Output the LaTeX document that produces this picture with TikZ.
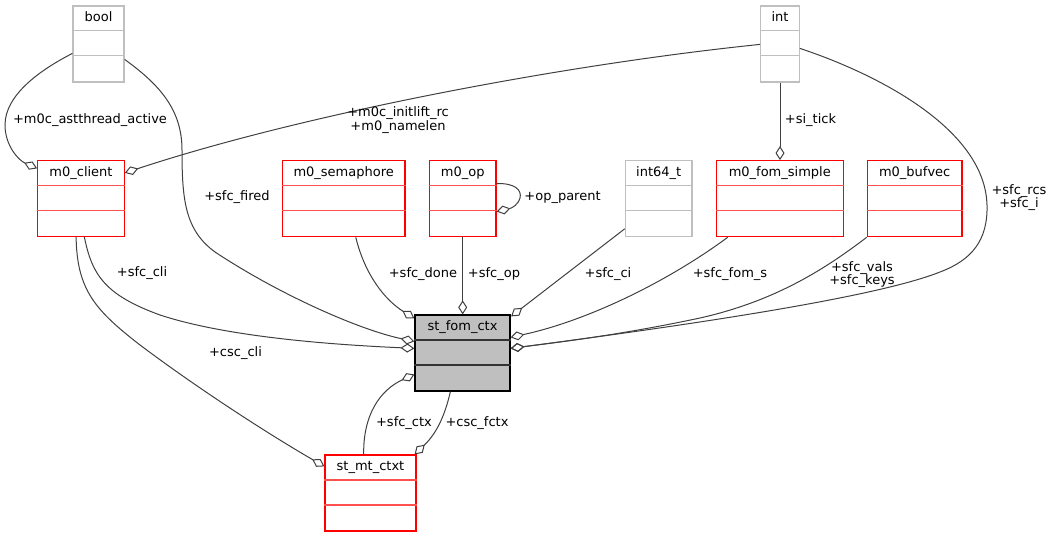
\documentclass[tikz,border=0pt]{standalone}
\usepackage{fontspec}
\setmainfont{DejaVu Sans}
\usetikzlibrary{arrows.meta,calc}
\definecolor{edgecol}{HTML}{404040}
\definecolor{boxgray}{HTML}{BFBFBF}
\definecolor{divred}{HTML}{FF5050}
\newcommand\lblfont{\fontsize{13}{13.7}\selectfont}
\newcommand\umlclass[6]{%
  \node[cls-#6, minimum width=#4pt, minimum height=76pt, inner sep=0pt] (#1) at (#2,#3) {};
  \node[font=\lblfont, anchor=base, inner sep=0pt] (#1-t) at ($(#1.north)+(0,16.5)$) {#5};
  \draw[cls-#6-div] ($(#1.north west)+(0,25.5)$) -- ($(#1.north east)+(0,25.5)$);
  \draw[cls-#6-div] ($(#1.north west)+(0,50.5)$) -- ($(#1.north east)+(0,50.5)$);
}
\tikzset{
  cls-red/.style={draw=red, line width=1.2pt, fill=white},
  cls-red-div/.style={draw=divred, line width=1.2pt},
  cls-gray/.style={draw=boxgray, line width=1.2pt, fill=white},
  cls-gray-div/.style={draw=boxgray, line width=1.2pt},
  cls-main/.style={draw=black, fill=boxgray, line width=1.2pt},
  cls-main-div/.style={draw=black!80, line width=1.4pt},
  agg/.style={draw=edgecol, line width=1pt, -{Diamond[open,length=14pt,width=9pt]}},
  elabel/.style={font=\lblfont, inner sep=0pt, align=center}
}
\begin{document}
\begin{tikzpicture}[x=1pt,y=-1pt]
\useasboundingbox (0,0) rectangle (1053,537);
% classes
\umlclass{bool}{98.5}{44}{51}{bool}{gray}
\umlclass{int}{780}{44}{38.6}{int}{gray}
\umlclass{m0client}{81}{198.5}{86.6}{m0\_client}{red}
\umlclass{sema}{343.7}{198.7}{122.7}{m0\_semaphore}{red}
\umlclass{m0op}{462.7}{198.7}{66.7}{m0\_op}{red}
\umlclass{int64}{658.7}{198.7}{66.7}{int64\_t}{gray}
\umlclass{fomsimple}{779.8}{198.7}{127}{m0\_fom\_simple}{red}
\umlclass{bufvec}{914.7}{198.7}{94.7}{m0\_bufvec}{red}
\umlclass{stfom}{462.5}{353}{95}{st\_fom\_ctx}{main}
\umlclass{stmt}{370.5}{493}{91}{st\_mt\_ctxt}{red}
% connectors
\draw[agg] ($(bool.north west)+(0,48)$) .. controls (40,70) and (5,95) .. (5,125)
  .. controls (5,145) and (18,160) .. ($(m0client.north west)+(0,8.5)$);
\draw[agg] ($(bool.north east)+(0,54)$) .. controls (160,85) and (182,110) .. (182,150)
  .. controls (182,200) and (185,230) .. (215,252)
  .. controls (280,295) and (360,330) .. ($(stfom.north west)+(0,27)$);
\draw[agg] ($(int.north west)+(0,39)$) .. controls (560,65) and (300,115) .. ($(m0client.north east)+(0,13)$);
\draw[agg] (int.south) -- (int.south |- fomsimple.north);
\draw[agg] ($(int.north east)+(0,43)$) .. controls (880,75) and (985,130) .. (987,205)
  .. controls (988,240) and (972,260) .. (940,272)
  .. controls (870,300) and (650,330) .. ($(stfom.north east)+(0,34)$);
\draw[agg] ($(m0client.south west)+(47.3,0)$) .. controls (92,275) and (105,295) .. (160,315)
  .. controls (230,338) and (340,345) .. ($(stfom.north west)+(0,34)$);
\draw[agg] ($(m0client.south west)+(39,0)$) .. controls (77,290) and (95,310) .. (140,345)
  .. controls (200,390) and (270,435) .. ($(stmt.north west)+(0,12)$);
\draw[agg] ($(sema.south west)+(74,0)$) .. controls (365,275) and (385,300) .. ($(stfom.north west)+(0,4)$);
\draw[agg] (m0op.south) -- (m0op.south |- stfom.north);
\draw[agg] ($(m0op.north east)+(0,23.5)$) .. controls (515,183) and (522,190) .. (520,198)
  .. controls (518,205) and (512,208) .. ($(m0op.north east)+(0,51.5)$);
\draw[agg] ($(int64.south west)+(0,-8.5)$) -- ($(stfom.north east)+(0.5,2)$);
\draw[agg] ($(fomsimple.south west)+(12,0)$) .. controls (670,280) and (590,320) .. ($(stfom.north east)+(0,23)$);
\draw[agg] ($(bufvec.south west)+(0,0)$) .. controls (830,265) and (780,300) .. (700,318)
  .. controls (620,335) and (560,342) .. ($(stfom.north east)+(0,34)$);
\draw[agg] ($(stmt.north west)+(39.3,0)$) .. controls (363,415) and (380,390) .. ($(stfom.north west)+(0,60)$);
\draw[agg] ($(stfom.south west)+(36,0)$) .. controls (445,415) and (437,433) .. ($(stmt.north east)+(-2,0)$);
% labels
\node[elabel] (l1) at (90,120) {+m0c\_astthread\_active};
\node[elabel] (l2) at (237,197) {+sfc\_fired};
\node[elabel] (l3) at (398,120) {+m0c\_initlift\_rc\\+m0\_namelen};
\node[elabel] (l4) at (810.5,120) {+si\_tick};
\node[elabel] (l5) at (1019,197.5) {+sfc\_rcs\\+sfc\_i};
\node[elabel] (l6) at (142,273) {+sfc\_cli};
\node[elabel] (l7) at (235.5,352.7) {+csc\_cli};
\node[elabel] (l8) at (423,274) {+sfc\_done};
\node[elabel] (l9) at (494,274) {+sfc\_op};
\node[elabel] (l10) at (562.5,197.7) {+op\_parent};
\node[elabel] (l11) at (608,274) {+sfc\_ci};
\node[elabel] (l12) at (730,274.3) {+sfc\_fom\_s};
\node[elabel] (l13) at (862,274.5) {+sfc\_vals\\+sfc\_keys};
\node[elabel] (l14) at (404,422.7) {+sfc\_ctx};
\node[elabel] (l15) at (477,422.7) {+csc\_fctx};
\end{tikzpicture}
\end{document}
